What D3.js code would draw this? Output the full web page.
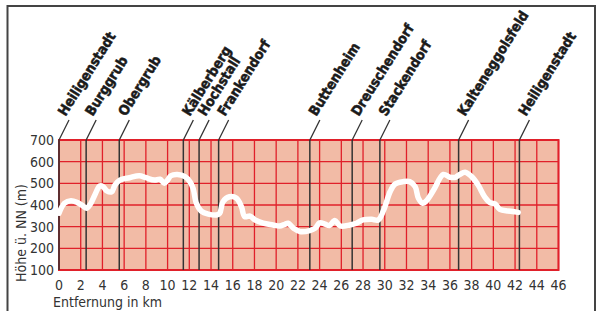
<!DOCTYPE html>
<html>
<head>
<meta charset="utf-8">
<script src="https://cdn.jsdelivr.net/npm/d3@7"></script>
<style>
  body { margin: 0; background: #fff; }
  text { font-family: "Liberation Sans Narrow", "DejaVu Sans Condensed", sans-serif; }
</style>
</head>
<body>
<script>
// elevation profile data (km, m)
var profileKm = [0, 0.5, 1.1, 1.7, 2.2, 2.55, 2.9, 3.3, 3.75, 4.05, 4.4, 4.85, 5.15, 5.6, 6.5, 7.4, 8.0, 8.8, 9.3, 9.7, 10.0, 10.3, 10.9, 11.6, 12.05, 12.35, 12.65, 13.1, 13.75, 14.5, 14.8, 15.1, 15.7, 16.35, 16.8, 17.1, 17.6, 18.05, 18.8, 19.7, 20.3, 20.8, 21.1, 21.6, 22.2, 23.1, 23.6, 24.0, 24.5, 24.9, 25.4, 25.9, 26.8, 27.4, 28.0, 28.8, 29.4, 29.9, 30.5, 30.95, 31.7, 32.3, 32.8, 33.1, 33.5, 33.9, 34.5, 35.4, 36.0, 36.5, 36.9, 37.4, 38.0, 38.6, 39.2, 39.7, 40.15, 40.6, 41.4, 42.3];
var profileElev = [362, 408, 420, 411, 396, 385, 405, 446, 488, 485, 465, 461, 492, 515, 526, 535, 526, 515, 519, 500, 515, 535, 541, 531, 508, 477, 408, 372, 358, 354, 362, 415, 438, 431, 392, 346, 349, 331, 316, 308, 303, 311, 316, 293, 277, 282, 293, 318, 312, 305, 328, 303, 308, 316, 331, 334, 331, 377, 462, 497, 508, 508, 485, 431, 408, 423, 469, 541, 528, 528, 541, 551, 531, 492, 438, 411, 405, 380, 372, 366];

// places along the route
var placeNames = ["Heiligenstadt", "Burggrub", "Obergrub", "Kälberberg", "Hochstall", "Frankendorf", "Buttenheim", "Dreuschendorf", "Stackendorf", "Kalteneggolsfeld", "Heiligenstadt"];
var placeKm = [0, 2.5, 5.55, 11.45, 12.9, 14.7, 23.1, 27.0, 29.55, 36.8, 42.4];

var xTicks = d3.range(0, 47, 2);
var yTicks = d3.range(100, 701, 100);

var w = 597, h = 311;
var svg = d3.select("body").append("svg")
    .attr("width", w)
    .attr("height", h);

// outer frame
svg.append("path")
    .attr("d", "M7.5,320 V6 H595 V320")
    .attr("fill", "none")
    .attr("stroke", "#444")
    .attr("stroke-width", 2);

var x = d3.scaleLinear().domain([0, 46]).range([59, 558.5]);
var y = d3.scaleLinear().domain([100, 700]).range([270, 140]);

var red = "#e0202a";

// plot background
svg.append("rect")
    .attr("x", x(0)).attr("y", y(700))
    .attr("width", x(46) - x(0)).attr("height", y(100) - y(700))
    .attr("fill", "#f2bba6");

// grid
svg.selectAll(".vgrid").data(xTicks).enter().append("line")
    .attr("class", "vgrid")
    .attr("x1", function(d){ return x(d); }).attr("x2", function(d){ return x(d); })
    .attr("y1", y(700)).attr("y2", y(100))
    .attr("stroke", red).attr("stroke-width", 1.3);
svg.selectAll(".hgrid").data(yTicks).enter().append("line")
    .attr("class", "hgrid")
    .attr("x1", x(0)).attr("x2", x(46))
    .attr("y1", function(d){ return y(d); }).attr("y2", function(d){ return y(d); })
    .attr("stroke", red).attr("stroke-width", 1.3);
svg.append("rect")
    .attr("x", x(0)).attr("y", y(700))
    .attr("width", x(46) - x(0)).attr("height", y(100) - y(700))
    .attr("fill", "none").attr("stroke", red).attr("stroke-width", 2);

// place markers
var places = placeKm.map(function(d, i){ return {km: d, name: placeNames[i]}; });
var pg = svg.selectAll(".place").data(places).enter().append("g")
    .attr("class", "place")
    .attr("transform", function(d){ return "translate(" + x(d.km) + ",0)"; });
pg.append("line")
    .attr("x1", 0).attr("x2", 0)
    .attr("y1", y(100)).attr("y2", y(700))
    .attr("stroke", "#333").attr("stroke-width", 1.5);
pg.append("line")
    .attr("x1", 0).attr("x2", 10)
    .attr("y1", y(700)).attr("y2", y(700) - 20)
    .attr("stroke", "#333").attr("stroke-width", 1.3);
pg.append("text")
    .attr("transform", "translate(6.5,117) rotate(-58)")
    .attr("font-size", 14)
    .attr("font-weight", "bold")
    .attr("fill", "#1a1a1a")
    .attr("stroke", "#1a1a1a").attr("stroke-width", 0.5)
    .text(function(d){ return d.name; });

// profile line
var line = d3.line()
    .x(function(d, i){ return x(profileKm[i]); })
    .y(function(d){ return y(d); })
    .curve(d3.curveCatmullRom);
svg.append("path")
    .datum(profileElev)
    .attr("d", line)
    .attr("fill", "none")
    .attr("stroke", "#fff")
    .attr("stroke-width", 5.5)
    .attr("stroke-linecap", "round")
    .attr("stroke-linejoin", "round");

// axes labels
svg.selectAll(".ylab").data(yTicks).enter().append("text")
    .attr("class", "ylab")
    .attr("x", 54).attr("y", function(d){ return y(d) + 5; })
    .attr("text-anchor", "end")
    .attr("font-size", 14).attr("fill", "#333")
    .text(function(d){ return d; });
svg.selectAll(".xlab").data(xTicks).enter().append("text")
    .attr("class", "xlab")
    .attr("x", function(d){ return x(d); }).attr("y", 290)
    .attr("text-anchor", "middle")
    .attr("font-size", 14).attr("fill", "#333")
    .text(function(d){ return d; });
svg.append("text")
    .attr("x", 53).attr("y", 307)
    .attr("font-size", 14).attr("fill", "#333")
    .text("Entfernung in km");
svg.append("text")
    .attr("transform", "translate(26,233) rotate(-90)")
    .attr("text-anchor", "middle")
    .attr("font-size", 14).attr("fill", "#333")
    .text("Höhe ü. NN (m)");
</script>
</body>
</html>
